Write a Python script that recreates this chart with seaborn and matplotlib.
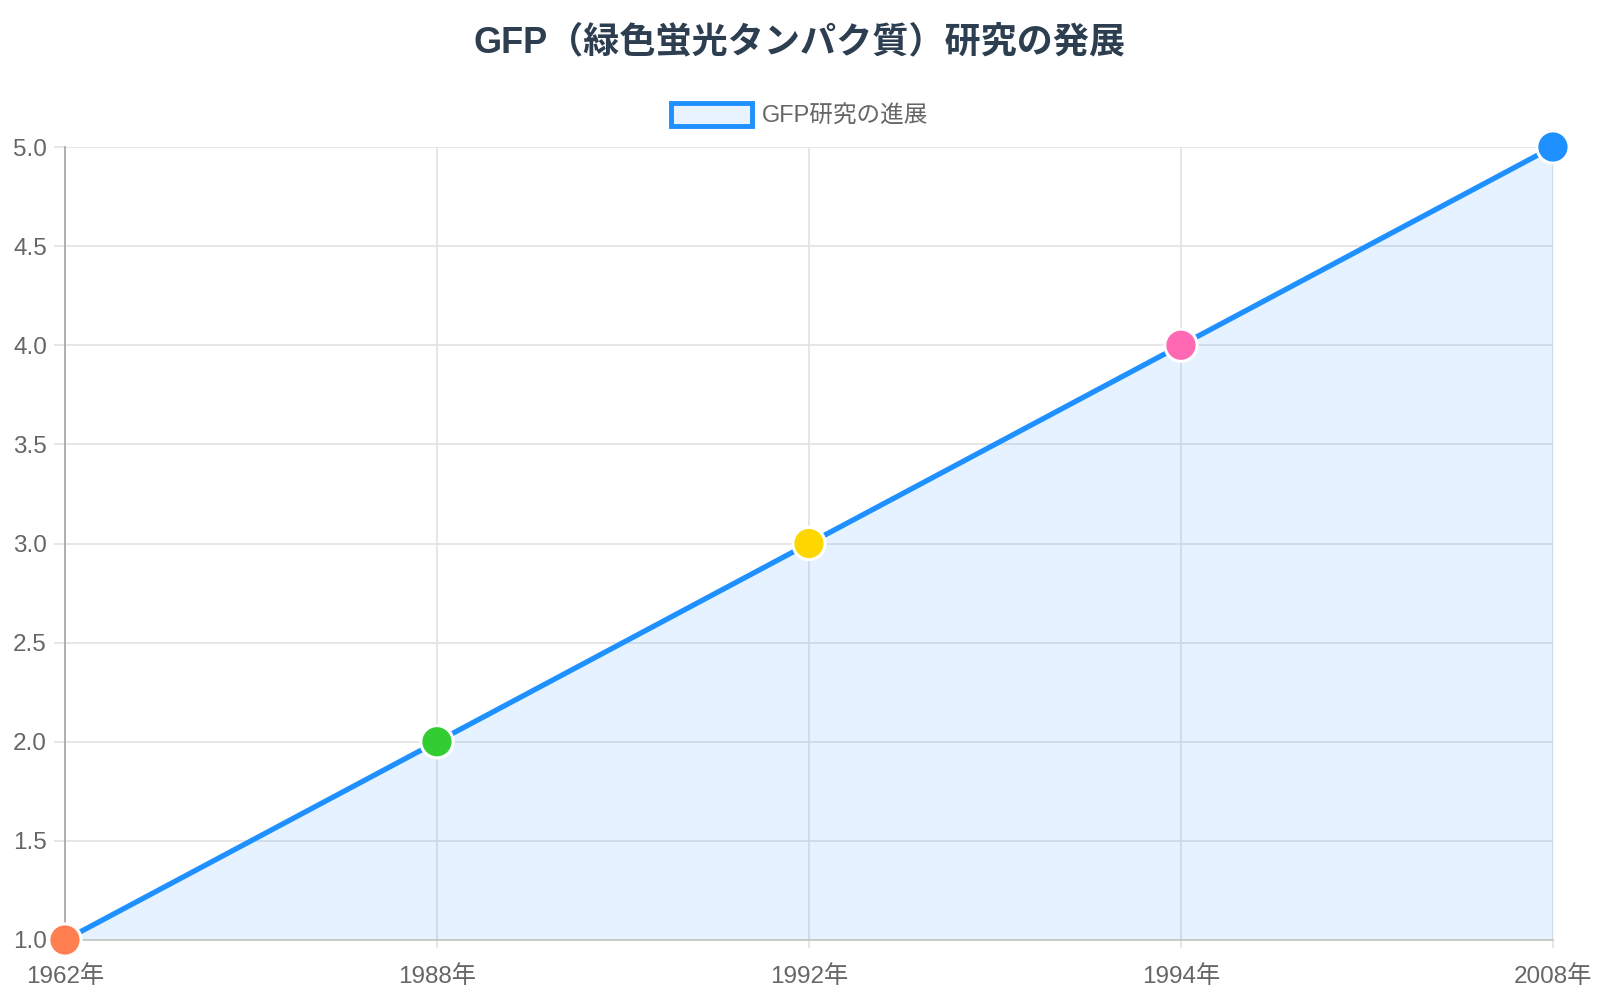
import matplotlib
matplotlib.use("Agg")
import matplotlib.pyplot as plt
import seaborn as sns
import pandas as pd
from matplotlib.patches import Patch

years = ["1962年", "1988年", "1992年", "1994年", "2008年"]
values = [1, 2, 3, 4, 5]
point_colors = ["#FF7F50", "#32CD32", "#FFD700", "#FF69B4", "#1E90FF"]
series_name = "GFP研究の進展"
title = "GFP（緑色蛍光タンパク質）研究の発展"
y_ticks = [1.0, 1.5, 2.0, 2.5, 3.0, 3.5, 4.0, 4.5, 5.0]

sns.set_theme(style="white")
plt.rcParams['font.family'] = ['Liberation Sans', 'Noto Sans CJK JP', 'DejaVu Sans']

df = pd.DataFrame({"pos": range(len(years)), "year": years, "value": values})

fig = plt.figure(figsize=(16, 10), dpi=100)
ax = fig.add_axes([0.0406, 0.06, 0.93, 0.793])

ax.fill_between(df["pos"], df["value"], 1.0, color="#1E90FF", alpha=0.11, linewidth=0, zorder=1)
sns.lineplot(data=df, x="pos", y="value", ax=ax, color="#1E90FF", linewidth=3.8, zorder=3)
sns.scatterplot(data=df, x="pos", y="value", hue="year", palette=point_colors, s=540,
                edgecolor="white", linewidth=2.2, ax=ax, zorder=4, clip_on=False, legend=False)
for c in ax.collections:
    c.set_clip_on(False)

ax.set_xlim(0, len(years) - 1)
ax.set_ylim(1.0, 5.0)
ax.set_xticks(range(len(years)))
ax.set_xticklabels(years)
ax.set_yticks(y_ticks)
ax.set_yticklabels([f"{v:.1f}" for v in y_ticks])
ax.set_xlabel("")
ax.set_ylabel("")

ax.grid(True, color="#e2e2e2", linewidth=1.2)
ax.set_axisbelow(True)
for s in ["top", "right"]:
    ax.spines[s].set_visible(False)
ax.spines["left"].set_color("#aaaaaa")
ax.spines["left"].set_linewidth(1.3)
ax.spines["bottom"].set_color("#c8c8c8")
ax.spines["bottom"].set_linewidth(1.3)
ax.tick_params(axis="both", colors="#e2e2e2", labelcolor="#666666", labelsize=17.5,
               width=1.2, bottom=True, left=True)
ax.tick_params(axis="y", length=8, pad=5)
ax.tick_params(axis="x", length=6, pad=12)

fig.suptitle(title, x=0.5, y=0.975, fontsize=26, fontweight="bold", color="#2c3e50")

handle = Patch(facecolor="#e8f3ff", edgecolor="#1E90FF", linewidth=3.5)
fig.legend([handle], [series_name], loc="center", bbox_to_anchor=(0.5, 0.885),
           frameon=False, fontsize=17, handlelength=3.4, handleheight=1.15,
           labelcolor="#666666", handletextpad=0.45)

fig.savefig("out.png", dpi=100)
